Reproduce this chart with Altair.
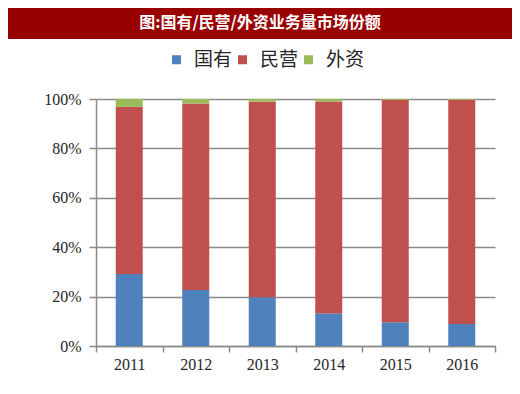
import altair as alt
import pandas as pd

years = ["2011", "2012", "2013", "2014", "2015", "2016"]
state_owned = [29.1, 22.7, 19.7, 13.2, 9.6, 8.9]
private = [67.7, 75.5, 79.2, 85.8, 90.0, 90.7]
foreign = [3.2, 1.8, 1.1, 1.0, 0.4, 0.4]
series = ["国有", "民营", "外资"]
colors = ["#4F81BD", "#C0504D", "#9BBB59"]
y_ticks = [0, 0.2, 0.4, 0.6, 0.8, 1.0]
title_text = "图:国有/民营/外资业务量市场份额"

rows = []
for i, y in enumerate(years):
    for k, (name, vals) in enumerate(zip(series, [state_owned, private, foreign])):
        rows.append({"year": y, "series": name, "share": vals[i] / 100.0, "order": k})
df = pd.DataFrame(rows)

W, H = 399, 247
PL, PT, PR, PB = 88, 91, 17, 38
GRAY = "#8a8a8a"

bars = alt.Chart(df).mark_bar(size=27).encode(
    x=alt.X(
        "year:N", sort=years,
        scale=alt.Scale(paddingInner=0, paddingOuter=0),
        axis=alt.Axis(
            title=None, labelAngle=0, tickBand="extent", tickSize=6, tickWidth=1.5,
            tickColor=GRAY, domainColor=GRAY, domainWidth=1.5, grid=False,
            labelFont="Liberation Serif", labelFontSize=16, labelColor="#262626",
            labelPadding=4,
        ),
    ),
    y=alt.Y(
        "share:Q", stack="zero", scale=alt.Scale(domain=[0, 1]),
        axis=alt.Axis(
            title=None, values=y_ticks, format=".0%", tickSize=7, tickWidth=1.5,
            tickColor=GRAY, domainColor=GRAY, domainWidth=1.5, grid=True,
            gridColor=GRAY, gridWidth=1.5, labelFont="Liberation Serif",
            labelFontSize=16, labelColor="#262626", labelPadding=8,
        ),
    ),
    color=alt.Color(
        "series:N", sort=series,
        scale=alt.Scale(domain=series, range=colors),
        legend=alt.Legend(
            title=None, orient="none", legendX=71, legendY=-49, direction="horizontal",
            symbolType="square", symbolSize=81, symbolStrokeWidth=0,
            labelFont="Noto Sans CJK SC", labelFontSize=19, labelColor="#262626",
            labelOffset=8, columnPadding=0, padding=0,
        ),
    ),
    order=alt.Order("order:Q"),
)

tdf = pd.DataFrame({"t": [title_text]})
banner = alt.Chart(tdf).mark_rect(color="#990000").encode(
    x=alt.value(-PL), x2=alt.value(W + PR), y=alt.value(-PT), y2=alt.value(-PT + 31)
)
title = alt.Chart(tdf).mark_text(
    font="Noto Sans CJK SC", fontSize=16, fontWeight="bold", color="white",
    align="center", baseline="middle",
).encode(x=alt.value(164), y=alt.value(-PT + 15), text="t:N")

chart = alt.layer(banner, title, bars).properties(
    width=W, height=H,
    autosize=alt.AutoSizeParams(type="none"),
    padding={"left": PL, "top": PT, "right": PR, "bottom": PB},
).configure_view(stroke=None)

chart.save("out.html", embed_options={"renderer": "svg", "actions": False})
